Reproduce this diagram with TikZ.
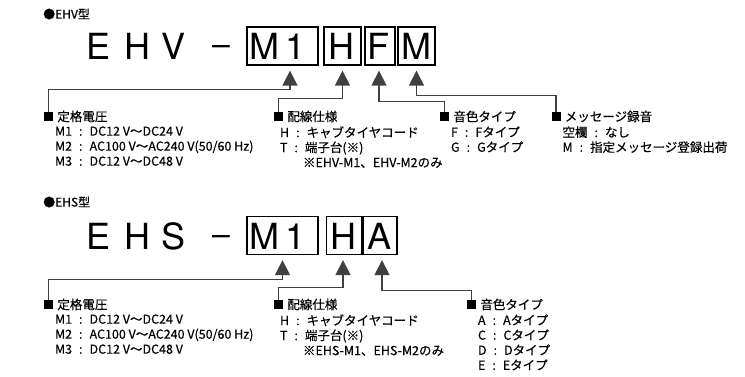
\documentclass[tikz,border=0pt]{standalone}
\usepackage{fontspec}
\setmainfont{Noto Sans CJK JP}[FakeBold=0.3]
\newfontfamily\bigfont{TeX Gyre Heros}
\usetikzlibrary{arrows.meta,positioning}
\definecolor{linegray}{gray}{0.25}

\newcommand{\cln}{\hspace{7pt}:\hspace{7pt}}

\begin{document}
\begin{tikzpicture}[x=1pt, y=-1pt,
  big/.style={font=\bigfont\fontsize{36}{36}\selectfont, inner sep=0pt, anchor=base},
  letterbox/.style={draw, line width=1.3pt, minimum height=38pt, inner sep=0pt},
  conn/.style={draw=linegray, line width=1.3pt, -{Triangle[width=15pt,length=15pt]}},
  sq/.style={fill=black, minimum size=9pt, inner sep=0pt},
  head/.style={font=\fontsize{12.5}{15}\selectfont, inner sep=0pt},
  items/.style={font=\fontsize{12.5}{15}\selectfont, inner sep=0pt, align=left},
  title/.style={font=\fontsize{12}{14}\selectfont, inner sep=0pt, anchor=west}]

\useasboundingbox (0,0) rectangle (745,377);

% ---------------- EHV
\node[title] (tEHV) at (43,14) {●EHV型};

\foreach \c/\x [count=\i] in {E/99,H/137.5,V/173.5,M/264,1/296,H/341.5,F/378.5,M/416.5}
  {\node[big] (v\i) at (\x,59.5) {\c};}
\node[big] (vdash) at (221,59.5) {\fontsize{32}{32}\selectfont\raisebox{4pt}{–}};

\node[letterbox, minimum width=71pt] (vbM1) at (282.5,46) {};
\node[letterbox, minimum width=37pt] (vbH) at (342.5,46) {};
\node[letterbox, minimum width=30pt] (vbF) at (380,46) {};
\node[letterbox, minimum width=37pt] (vbM) at (416.5,46) {};

\coordinate (vtM1) at ([xshift=7.5pt, yshift=-5pt]vbM1.south);
\coordinate (vtH) at ([yshift=-5pt]vbH.south);
\coordinate (vtF) at ([xshift=-1pt, yshift=-5pt]vbF.south);
\coordinate (vtM) at ([yshift=-5pt]vbM.south);

\node[sq] (vsq1) at (48.5,116.5) {};
\node[head, right=4pt of vsq1] (vhead1) {定格電圧};
\node[items, below right=5pt and 11pt of vsq1.south west] (vlist1)
  {M1\cln DC12 V～DC24 V\\ M2\cln AC100 V～AC240 V(50/60 Hz)\\ M3\cln DC12 V～DC48 V};

\node[sq] (vsq2) at (278.5,116.5) {};
\node[head, right=4pt of vsq2] (vhead2) {配線仕様};
\node[items, below right=5pt and 6pt of vsq2.south west] (vlist2)
  {H\cln キャブタイヤコード\\ T\cln 端子台(※)\\ \hspace*{23pt}※EHV-M1、EHV-M2のみ};

\node[sq] (vsq3) at (444.5,116.5) {};
\node[head, right=4pt of vsq3] (vhead3) {音色タイプ};
\node[items, below right=5pt and 11pt of vsq3.south west] (vlist3)
  {F\cln Fタイプ\\ G\cln Gタイプ};

\node[sq] (vsq4) at (556,116.5) {};
\node[head, right=4pt of vsq4] (vhead4) {メッセージ録音};
\node[items, below right=5pt and 11pt of vsq4.south west] (vlist4)
  {空欄\cln なし\\ M\cln 指定メッセージ登録出荷};

\draw[conn] (vsq1.north) -- ++(0,-22) -| (vtM1);
\draw[conn] (vsq2.north) -- ++(0,-13) -| (vtH);
\draw[conn] (vsq3.north) -- ++(0,-10) -| (vtF);
\draw[conn] (vsq4.north) -- ++(0,-16) -| (vtM);

% ---------------- EHS
\node[title] (tEHS) at (43,202) {●EHS型};

\foreach \c/\x [count=\i] in {E/99,H/137.5,S/173.5,M/264,1/296,H/343.5,A/380}
  {\node[big] (s\i) at (\x,249) {\c};}
\node[big] (sdash) at (221,249) {\fontsize{32}{32}\selectfont\raisebox{4pt}{–}};

\node[letterbox, minimum width=71pt] (sbM1) at (282.5,235.5) {};
\node[letterbox, minimum width=35pt] (sbH) at (344,235.5) {};
\node[letterbox, minimum width=34pt] (sbA) at (380,235.5) {};

\coordinate (stM1) at ([yshift=-5pt]sbM1.south);
\coordinate (stH) at ([xshift=-1pt, yshift=-5pt]sbH.south);
\coordinate (stA) at ([xshift=2pt, yshift=-5pt]sbA.south);

\node[sq] (ssq1) at (48.5,304.5) {};
\node[head, right=4pt of ssq1] (shead1) {定格電圧};
\node[items, below right=5pt and 11pt of ssq1.south west] (slist1)
  {M1\cln DC12 V～DC24 V\\ M2\cln AC100 V～AC240 V(50/60 Hz)\\ M3\cln DC12 V～DC48 V};

\node[sq] (ssq2) at (278.5,304.5) {};
\node[head, right=4pt of ssq2] (shead2) {配線仕様};
\node[items, below right=5pt and 6pt of ssq2.south west] (slist2)
  {H\cln キャブタイヤコード\\ T\cln 端子台(※)\\ \hspace*{23pt}※EHS-M1、EHS-M2のみ};

\node[sq] (ssq3) at (471.5,304.5) {};
\node[head, right=4pt of ssq3] (shead3) {音色タイプ};
\node[items, below right=5pt and 11pt of ssq3.south west] (slist3)
  {A\cln Aタイプ\\ C\cln Cタイプ\\ D\cln Dタイプ\\ E\cln Eタイプ};

\draw[conn] (ssq1.north) -- ++(0,-20) -| (stM1);
\draw[conn] (ssq2.north) -- ++(0,-12) -| (stH);
\draw[conn] (ssq3.north) -- ++(0,-9) -| (stA);

\end{tikzpicture}
\end{document}
